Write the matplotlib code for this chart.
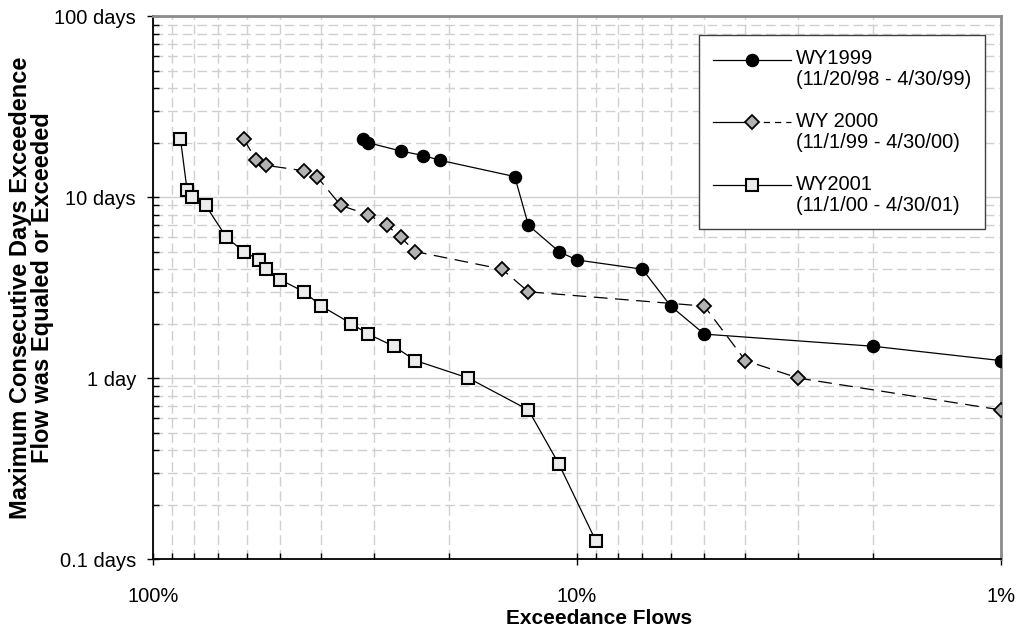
import numpy as np
import matplotlib.pyplot as plt
from matplotlib.lines import Line2D
from matplotlib.legend_handler import HandlerBase
from matplotlib.ticker import LogLocator, NullFormatter

plt.rcParams['font.family'] = ['Liberation Sans', 'DejaVu Sans']

# exceedance flow (%) vs max consecutive days
wy1999_pct = [32, 31, 26, 23, 21, 14, 13, 11, 10, 7, 6, 5, 2, 1]
wy1999_days = [21, 20, 18, 17, 16, 13, 7, 5, 4.5, 4, 2.5, 1.75, 1.5, 1.25]

wy2000_pct = [61, 57, 54, 44, 41, 36, 31, 28, 26, 24, 15, 13, 5, 4, 3, 1]
wy2000_days = [21, 16, 15, 14, 13, 9, 8, 7, 6, 5, 4, 3, 2.5, 1.25, 1, 0.667]

wy2001_pct = [86, 83, 81, 75, 67, 61, 56, 54, 50, 44, 40, 34, 31, 27, 24, 18, 13, 11, 9]
wy2001_days = [21, 11, 10, 9, 6, 5, 4.5, 4, 3.5, 3, 2.5, 2, 1.75, 1.5, 1.25, 1, 0.667, 0.333, 0.125]

series_labels = ["WY1999\n(11/20/98 - 4/30/99)",
                 "WY 2000\n(11/1/99 - 4/30/00)",
                 "WY2001\n(11/1/00 - 4/30/01)"]

x_ticks = [100, 10, 1]
x_ticklabels = ["100%", "10%", "1%"]
y_ticks = [0.1, 1, 10, 100]
y_ticklabels = ["0.1 days", "1 day", "10 days", "100 days"]


class SplitHandler(HandlerBase):
    """legend handle like Excel: solid left half, marker, styled right half,
    raised to sit on the first text line"""

    def __init__(self, dy=0.0, right_ls='-'):
        super().__init__()
        self.dy = dy
        self.right_ls = right_ls

    def create_artists(self, legend, orig_handle, xdescent, ydescent,
                       width, height, fontsize, trans):
        x0, x1 = -xdescent, width - xdescent
        xm = 0.5 * (x0 + x1)
        y = (height - ydescent) / 2 + self.dy * fontsize
        lw = orig_handle.get_linewidth()
        left = Line2D([x0, xm], [y, y], color='black', lw=lw)
        right = Line2D([xm, x1], [y, y], color='black', lw=lw, linestyle=self.right_ls)
        mk = Line2D([xm], [y], linestyle='none',
                    marker=orig_handle.get_marker(),
                    markersize=orig_handle.get_markersize(),
                    markerfacecolor=orig_handle.get_markerfacecolor(),
                    markeredgecolor=orig_handle.get_markeredgecolor(),
                    markeredgewidth=orig_handle.get_markeredgewidth())
        for a in (left, right, mk):
            a.set_transform(trans)
        return [left, right, mk]


fig = plt.figure(figsize=(10.25, 6.31), dpi=100)
ax = fig.add_axes([0.14898, 0.1141, 0.82732, 0.86006])

l1, = ax.plot(wy1999_pct, wy1999_days, color='black', lw=0.9,
              marker='o', ms=8.7, mfc='black', mec='black', zorder=5)
l2, = ax.plot(wy2000_pct, wy2000_days, color='black', lw=0.9, dashes=(11, 6),
              marker='D', ms=7.5, mfc='#b2b2b2', mec='black', mew=1.3, zorder=4)
l3, = ax.plot(wy2001_pct, wy2001_days, color='black', lw=0.9,
              marker='s', ms=8.7, mfc='#ececec', mec='black', mew=1.5, zorder=3)

ax.set_xscale('log')
ax.set_yscale('log')
ax.set_xlim(100, 1)
ax.set_ylim(0.1, 100)

ax.set_xticks(x_ticks, x_ticklabels)
ax.set_yticks(y_ticks, y_ticklabels)
for axis in (ax.xaxis, ax.yaxis):
    axis.set_minor_locator(LogLocator(base=10, subs=range(2, 10)))
    axis.set_minor_formatter(NullFormatter())

ax.set_axisbelow(True)
ax.grid(which='major', color='#d0d0d0', lw=1.0, ls='-')
ax.grid(which='minor', color='#d0d0d0', lw=1.0, ls=(0, (7, 3.5)))

ax.tick_params(which='major', direction='inout', length=8, width=1, labelsize=14.5)
ax.tick_params(which='minor', direction='in', length=4, width=1)
ax.tick_params(axis='x', which='major', pad=16)
ax.tick_params(axis='y', which='major', pad=8)

for s in ('left', 'bottom'):
    ax.spines[s].set_color('black')
    ax.spines[s].set_linewidth(1.3)
for s in ('top', 'right'):
    ax.spines[s].set_color('#8c8c8c')
    ax.spines[s].set_linewidth(2)

ax.set_xlabel("Exceedance Flows", fontsize=15, fontweight='bold')
ax.xaxis.set_label_coords(0.526, -0.093)
ax.set_ylabel("Maximum Consecutive Days Exceedence\nFlow was Equaled or Exceeded",
              fontsize=17, fontweight='bold', linespacing=0.93)
ax.yaxis.set_label_coords(-0.1164, 0.5)

leg = ax.legend([l1, l2, l3], series_labels,
                handler_map={l1: SplitHandler(0.5),
                             l2: SplitHandler(0.5, (0, (5, 4))),
                             l3: SplitHandler(0.5)},
                loc='upper right', bbox_to_anchor=(0.9818, 0.9661),
                borderaxespad=0, fontsize=14.5, fancybox=False, framealpha=1,
                edgecolor='#404040', handlelength=3.85, handletextpad=0.25,
                borderpad=0.7, labelspacing=1.1)
leg.get_frame().set_linewidth(1.0)
for t in leg.get_texts():
    t.set_linespacing(1.18)

fig.savefig('out.png', dpi=100)
